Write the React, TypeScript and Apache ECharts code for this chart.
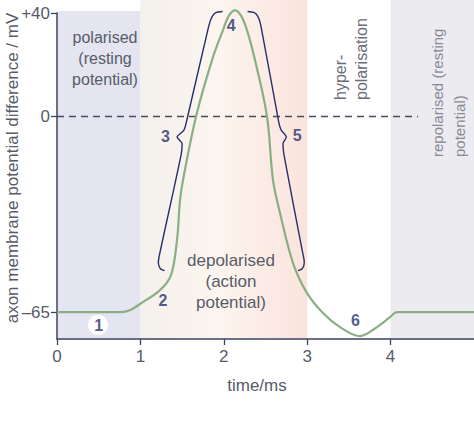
import { useEffect, useRef } from "react";
import * as echarts from "echarts";

// Action potential trace: time (ms) against membrane potential (mV)
const timeMs = [0, 0.76, 0.88, 0.995, 1.235, 1.367, 1.439, 1.475, 1.511, 1.667, 1.859, 1.99, 2.062, 2.134, 2.206, 2.278, 2.374, 2.518, 2.59, 2.674, 2.83, 2.998, 3.189, 3.393, 3.633, 3.837, 3.993, 4.077, 5.0];
const potentialMv = [-65, -65, -64.3, -62.3, -57.7, -52.7, -41.0, -27.8, -21.1, 0, 21.8, 33.4, 39.0, 41, 39.0, 33.4, 21.8, 0, -21.1, -32.1, -48.7, -58.7, -65.3, -70.0, -73.0, -70.0, -66.7, -65, -65];

const xTicks = [0, 1, 2, 3, 4];
const yTicksMv = [40, 0, -65];
const yTickLabels = ["+40", "0", "\u201365"];

// Phases of the cycle (time range, ms)
const bandStart = [0, 1, 4];
const bandEnd = [1, 3, 5];

// Braces marking the rising phase, the peak and the falling phase (time, mV)
const braceRising = [[1.985, 40.6], [1.91, 40.2], [1.86, 38.6], [1.82, 35.0], [1.55, -2.0], [1.52, -4.6], [1.44, -6.8], [1.5, -9.0], [1.49, -12.5], [1.24, -44.5], [1.215, -48.5], [1.24, -50.6], [1.29, -51.2]];
const braceFalling = [[2.285, 40.6], [2.36, 40.2], [2.41, 38.6], [2.445, 35.0], [2.66, -2.0], [2.69, -4.6], [2.75, -6.8], [2.71, -9.0], [2.72, -12.5], [2.94, -44.5], [2.965, -48.5], [2.94, -50.6], [2.89, -51.2]];

// Numbered stages (time, mV)
const stageNames = ["1", "2", "3", "4", "5", "6"];
const stageTimes = [0.5, 1.27, 1.3, 2.09, 2.88, 3.58];
const stageMv = [-69.3, -61.3, -6.8, 35, -6.2, -67.7];

const restingLineEnd = 4.33;

// The diagram is not to scale: the negative half of the axis is stretched
const NEG_STRETCH = 75.6 / 65;
const toAxis = (mv: number) => (mv >= 0 ? mv : mv * NEG_STRETCH);

const FONT = "'Liberation Sans', Arial, sans-serif";
const NAVY = "#27306a";
const TEXT = "#575c68";
const AXIS = "#3d4364";

export default function App() {
  const ref = useRef<HTMLDivElement>(null);

  useEffect(() => {
    if (!ref.current) return;
    const chart = echarts.init(ref.current, null, { renderer: "svg" });

    const trace = timeMs.map((t, i) => [t, toAxis(potentialMv[i])]);
    const brace = (pts: number[][]) => pts.map(([t, v]) => [t, toAxis(v)]);
    const yCustom = yTicksMv.map(toAxis);

    const bandFills: any[] = [
      "#e4e5f0",
      new echarts.graphic.LinearGradient(0, 0, 1, 0, [
        { offset: 0, color: "#f4f0ec" },
        { offset: 0.45, color: "#fcf5ef" },
        { offset: 1, color: "#fbe3dd" },
      ]),
      "#ececf0",
    ];
    // how far each band reaches above the plot area
    const bandOverhang = [2, 13, 13];

    const braceSeries = (pts: number[][]) => ({
      type: "line",
      data: brace(pts),
      smooth: 0.25,
      symbol: "none",
      silent: true,
      clip: false,
      z: 4,
      lineStyle: { color: NAVY, width: 1.4 },
    });

    const textZ = 20;

    chart.setOption({
      animation: false,
      backgroundColor: "#ffffff",
      grid: { left: 57, right: 0, top: 13, bottom: 98 },
      xAxis: {
        type: "value",
        min: 0,
        max: 5,
        interval: 1,
        axisLine: { onZero: false, lineStyle: { color: AXIS, width: 1.5 } },
        axisTick: { customValues: xTicks, length: 6, lineStyle: { color: AXIS, width: 1.3 } },
        axisLabel: { customValues: xTicks, color: TEXT, fontSize: 17, fontFamily: FONT, margin: 9 },
        splitLine: { show: false },
      },
      yAxis: {
        type: "value",
        min: -86,
        max: 40,
        axisLine: { show: true, onZero: false, lineStyle: { color: AXIS, width: 1.5 } },
        axisTick: { show: true, customValues: yCustom, length: 6, lineStyle: { color: AXIS, width: 1.3 } },
        axisLabel: {
          customValues: yCustom,
          color: TEXT,
          fontSize: 17,
          fontFamily: FONT,
          margin: 7,
          formatter: (v: number) => {
            const i = yCustom.findIndex((c) => Math.abs(c - v) < 0.01);
            return i >= 0 ? yTickLabels[i] : "";
          },
        },
        splitLine: { show: false },
      },
      series: [
        {
          // shaded phases of the cycle
          type: "custom",
          silent: true,
          clip: false,
          z: 0,
          data: bandStart.map((s, i) => [s, bandEnd[i], i]),
          encode: { x: [0, 1] },
          renderItem: (params: any, api: any) => {
            const i = api.value(2);
            const x0 = api.coord([api.value(0), 0])[0];
            const x1 = api.coord([api.value(1), 0])[0];
            const cs = params.coordSys;
            const top = cs.y - bandOverhang[i];
            return {
              type: "rect",
              shape: { x: x0, y: top, width: x1 - x0, height: cs.y + cs.height - top },
              style: { fill: bandFills[i] },
            };
          },
        },
        {
          // resting level reference line at 0 mV
          type: "line",
          data: [
            [0, 0],
            [restingLineEnd, 0],
          ],
          symbol: "none",
          silent: true,
          z: 2,
          lineStyle: { color: "#4a4e5c", width: 1.4, type: [7, 5] },
        },
        {
          type: "line",
          data: trace,
          smooth: 0.35,
          symbol: "none",
          clip: false,
          z: 3,
          lineStyle: { color: "#8aaf85", width: 2.2 },
        },
        braceSeries(braceRising),
        braceSeries(braceFalling),
        {
          type: "scatter",
          data: stageTimes.map((t, i) => ({ name: stageNames[i], value: [t, toAxis(stageMv[i])] })),
          symbolSize: 1,
          itemStyle: { color: "rgba(0,0,0,0)" },
          z: 6,
          label: {
            show: true,
            position: "inside",
            formatter: (p: any) => p.name,
            color: NAVY,
            fontSize: 16,
            fontWeight: "bold",
            fontFamily: FONT,
          },
          labelLayout: { hideOverlap: false },
        },
      ],
      graphic: [
        {
          type: "circle",
          shape: { cx: 98, cy: 325, r: 10 },
          style: { fill: "#ffffff" },
          z: 5,
          silent: true,
        },
        {
          type: "text",
          x: 105,
          y: 27,
          z: textZ,
          style: {
            text: "polarised\n(resting\npotential)",
            fill: TEXT,
            font: `16px ${FONT}`,
            align: "center",
            verticalAlign: "top",
            lineHeight: 21,
          },
        },
        {
          type: "text",
          x: 231,
          y: 250,
          z: textZ,
          style: {
            text: "depolarised\n(action\npotential)",
            fill: TEXT,
            font: `17px ${FONT}`,
            align: "center",
            verticalAlign: "top",
            lineHeight: 21,
          },
        },
        {
          type: "text",
          x: 330,
          y: 100,
          z: textZ,
          rotation: Math.PI / 2,
          style: {
            text: "hyper-\npolarisation",
            fill: "#6a6e79",
            font: `16px ${FONT}`,
            align: "left",
            verticalAlign: "top",
            lineHeight: 21,
          },
        },
        {
          type: "text",
          x: 426,
          y: 157,
          z: textZ,
          rotation: Math.PI / 2,
          style: {
            text: "repolarised (resting\npotential)",
            fill: "#878b95",
            font: `15px ${FONT}`,
            align: "left",
            verticalAlign: "top",
            lineHeight: 22,
          },
        },
        {
          type: "text",
          x: 12,
          y: 168,
          z: textZ,
          rotation: Math.PI / 2,
          style: {
            text: "axon membrane potential difference / mV",
            fill: TEXT,
            font: `17px ${FONT}`,
            align: "center",
            verticalAlign: "middle",
          },
        },
        {
          type: "text",
          x: 257,
          y: 385,
          z: textZ,
          style: {
            text: "time/ms",
            fill: TEXT,
            font: `17px ${FONT}`,
            align: "center",
            verticalAlign: "middle",
          },
        },
      ],
    });

    return () => chart.dispose();
  }, []);

  return <div ref={ref} style={{ width: 474, height: 437, position: "absolute", left: 0, top: 0 }} />;
}
